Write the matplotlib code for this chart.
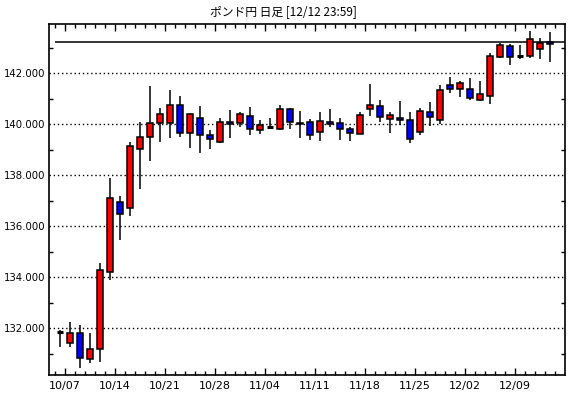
import matplotlib
matplotlib.use("Agg")
import matplotlib.pyplot as plt
from matplotlib.ticker import FixedLocator, MultipleLocator, FormatStrFormatter
import numpy as np
import pandas as pd

# GBP/JPY daily candles, 2024-10-04 .. 2024-12-12 (business days)
dates = pd.bdate_range("2024-10-04", "2024-12-12")

opens = [131.84, 131.41, 131.80, 130.78, 131.18, 134.22, 136.95, 136.73, 139.02, 139.49,
         140.04, 140.04, 140.75, 139.65, 140.24, 139.57, 139.29, 140.08, 140.04, 140.31,
         139.76, 139.90, 139.83, 140.59, 140.03, 140.08, 139.71, 140.08, 140.04, 139.80,
         139.61, 140.59, 140.71, 140.20, 140.24, 140.16, 139.69, 140.47, 140.16, 141.53,
         141.37, 141.37, 140.94, 141.10, 142.63, 143.06, 142.70, 142.67, 142.94, 143.22]
highs = [131.93, 132.26, 132.13, 131.83, 134.58, 137.91, 137.19, 139.31, 140.09, 141.50,
         140.63, 141.35, 141.11, 140.43, 140.72, 139.78, 140.24, 140.54, 140.48, 140.67,
         140.17, 140.25, 140.76, 140.62, 140.52, 140.20, 140.48, 140.60, 140.25, 139.91,
         140.48, 141.58, 140.95, 140.47, 140.92, 140.48, 140.63, 140.88, 141.54, 141.86,
         141.70, 141.82, 141.70, 142.81, 143.18, 143.14, 143.10, 143.66, 143.37, 143.61]
lows = [131.28, 131.28, 130.43, 130.65, 130.69, 133.90, 135.46, 136.41, 137.48, 138.56,
        139.32, 139.45, 139.49, 139.06, 138.86, 139.02, 139.27, 139.45, 139.91, 139.56,
        139.61, 139.83, 139.78, 139.83, 139.48, 139.39, 139.36, 139.91, 139.39, 139.36,
        139.60, 140.34, 140.07, 139.65, 139.96, 139.28, 139.56, 139.93, 140.00, 141.24,
        141.08, 140.94, 140.90, 140.81, 142.59, 142.34, 142.55, 142.59, 142.55, 142.46]
closes = [131.84, 131.80, 130.82, 131.18, 134.29, 137.10, 136.47, 139.15, 139.50, 140.04,
          140.39, 140.75, 139.65, 140.39, 139.57, 139.41, 140.08, 140.00, 140.39, 139.80,
          139.96, 139.90, 140.59, 140.10, 140.00, 139.56, 140.12, 140.00, 139.80, 139.65,
          140.35, 140.75, 140.27, 140.35, 140.16, 139.41, 140.51, 140.27, 141.33, 141.37,
          141.62, 141.01, 141.18, 142.67, 143.10, 142.63, 142.68, 143.33, 143.20, 143.14]
last_price = 143.22
title = "ポンド円 日足 [12/12 23:59]"

fig = plt.figure(figsize=(5.7, 3.98), dpi=100)
ax = fig.add_axes([0.0868, 0.059, 0.9044, 0.8807])

x = np.arange(len(dates))
w = 0.64
for i in x:
    o, h, l, c = opens[i], highs[i], lows[i], closes[i]
    ax.vlines(i, l, h, color="black", lw=1.1, zorder=2)
    if abs(c - o) < 0.03:
        ax.hlines((o + c) / 2, i - w / 2, i + w / 2, color="black", lw=2.2, zorder=3)
    else:
        col = "#ff0000" if c > o else "#0000ff"
        ax.bar(i, abs(c - o), bottom=min(o, c), width=w, color=col,
               edgecolor="black", linewidth=1.1, zorder=3)

# last price line
ax.hlines(last_price, -0.5, 50.5, color="black", lw=1.1, zorder=1)

ax.set_xlim(-1.05, 50.5)
ax.set_ylim(130.19, 143.93)

# y axis
ax.yaxis.set_major_locator(MultipleLocator(2))
ax.yaxis.set_minor_locator(MultipleLocator(1))
ax.yaxis.set_major_formatter(FormatStrFormatter("%.3f"))
ax.grid(axis="y", which="major", color="black", linestyle=(0, (1, 2)), lw=1)

# x axis: minor tick at each candle boundary, major at Mondays
mondays = [i for i, d in enumerate(dates) if d.weekday() == 0]
ax.xaxis.set_major_locator(FixedLocator([i - 0.5 for i in mondays]))
ax.set_xticklabels([dates[i].strftime("%m/%d") for i in mondays])
ax.xaxis.set_minor_locator(FixedLocator(np.arange(-0.5, 50.5, 1)))

ax.tick_params(which="both", direction="in", top=True, right=True,
               labelsize=8, colors="black", width=1, pad=5)
ax.tick_params(which="major", length=5)
ax.tick_params(which="minor", length=3)
ax.tick_params(axis="y", which="major", length=0, pad=3, labelsize=7.3)

for s in ax.spines.values():
    s.set_linewidth(1.2)

fig.text(0.4965, 0.97, title, ha="center", va="center", fontsize=8.5,
         family=["Noto Sans CJK JP", "DejaVu Sans"])

fig.savefig("out.png", dpi=100)
